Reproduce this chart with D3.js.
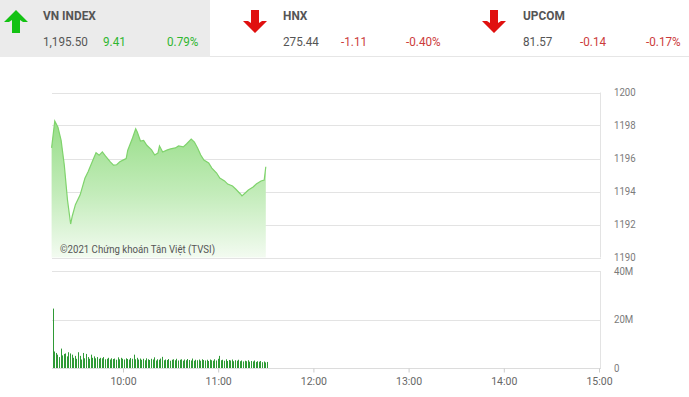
<!DOCTYPE html>
<html>
<head>
<meta charset="utf-8">
<script src="https://cdn.jsdelivr.net/npm/d3@7"></script>
<style>
  body { margin: 0; background: #fff; }
  svg { display: block; font-family: Roboto, "Noto Sans", sans-serif; }
</style>
</head>
<body>
<svg id="chart" width="689" height="397"></svg>
<script>
// header tiles
const indexNames = ["VN INDEX", "HNX", "UPCOM"];
const indexValues = ["1,195.50", "275.44", "81.57"];
const indexChanges = ["9.41", "-1.11", "-0.14"];
const indexPercents = ["0.79%", "-0.40%", "-0.17%"];

// intraday VN-Index (time, points)
const priceTimes = ["09:15","09:17","09:19","09:21","09:23","09:25","09:27","09:28","09:30","09:33",
  "09:36","09:38","09:41","09:43","09:45","09:47","09:49","09:52","09:54","09:56",
  "09:58","10:00","10:02","10:03","10:06","10:08","10:09","10:11","10:13","10:15",
  "10:18","10:20","10:22","10:23","10:25","10:28","10:30","10:33","10:35","10:38",
  "10:40","10:43","10:45","10:47","10:49","10:51","10:54","10:56","10:59","11:01",
  "11:04","11:06","11:09","11:11","11:14","11:15","11:17","11:19","11:22","11:24",
  "11:27","11:29","11:30"];
const priceValues = [1196.64,1198.27,1197.90,1197.10,1195.60,1193.50,1192.03,1192.50,1193.20,1193.80,
  1194.80,1195.20,1195.90,1196.35,1196.20,1196.40,1196.15,1195.80,1195.60,1195.62,
  1195.80,1195.90,1196.00,1196.50,1197.24,1197.80,1197.60,1197.06,1197.10,1196.80,
  1196.52,1196.21,1196.33,1196.76,1196.39,1196.52,1196.58,1196.64,1196.76,1196.70,
  1196.88,1197.18,1197.00,1196.64,1196.21,1195.91,1195.73,1195.42,1195.12,1194.82,
  1194.64,1194.45,1194.33,1194.15,1193.85,1193.73,1193.91,1194.09,1194.27,1194.45,
  1194.64,1194.70,1195.50];

// volume per minute from 09:15, in millions
const volumeStart = "09:15";
const volumeValues = [24.5,
  6.8,6.2,5.5,4.5,8.0,5.2,5.8,6.0,4.8,6.5,6.0,5.5,4.2,5.0,3.8,
  6.5,5.0,3.5,6.2,4.0,5.8,4.5,3.8,5.5,4.2,4.8,4.0,4.5,3.8,4.2,
  4.0,4.5,3.6,3.8,4.2,3.5,4.0,3.7,3.9,3.4,4.4,3.6,4.2,3.8,3.5,
  4.0,3.7,3.5,4.1,3.8,5.5,3.6,4.2,3.5,3.9,3.4,3.8,3.2,4.0,3.6,
  3.3,3.8,3.5,4.4,3.1,3.6,3.4,3.9,4.6,3.2,3.5,3.3,3.7,3.0,3.4,
  3.6,3.2,3.8,3.1,3.4,3.6,3.0,3.5,3.2,3.7,3.3,3.1,3.9,3.0,3.4,
  3.2,3.5,3.0,3.6,3.3,3.1,3.4,2.9,3.5,3.2,3.0,3.6,3.1,3.8,5.0,
  3.2,3.4,3.0,3.6,2.9,3.3,3.1,3.5,2.8,3.2,3.0,3.4,2.8,3.1,2.7,
  3.0,2.8,3.2,2.6,2.9,2.7,3.1,2.5,2.8,2.6,2.9,2.4,2.7,2.3,2.5];

const priceTicks = [1190, 1192, 1194, 1196, 1198, 1200];
const volumeTicks = [0, 20, 40];
const timeTicks = ["10:00", "11:00", "12:00", "13:00", "14:00", "15:00"];

const parse = d3.timeParse("%H:%M");

const svg = d3.select("#chart");

// ---- header ----
svg.append("rect").attr("x", 0).attr("y", 0).attr("width", 210).attr("height", 57).attr("fill", "#ebebeb");
svg.append("line").attr("x1", 210).attr("x2", 689).attr("y1", 56.5).attr("y2", 56.5).attr("stroke", "#e6e6e6");

const tileX = [43, 283, 523];
const changeX = [103, 341, 580];
const pctX = [167, 406, 646];
const arrowX = [16, 255, 494];

// narrow text, the source font is a condensed face
function narrow(x, y, sx) {
  return `translate(${x},${y}) scale(${sx},1)`;
}

indexNames.forEach(function(name, i) {
  const up = !indexChanges[i].startsWith("-");
  const col = up ? "#2fb62f" : "#cc3b3b";
  const ac = up ? "#13c213" : "#e0100f";
  const cx = arrowX[i];
  const arrow = up
    ? `M${cx},10 L${cx+12},22 L${cx+7},22 L${cx+4},20 L${cx+4},33 L${cx-4},33 L${cx-4},20 L${cx-7},22 L${cx-12},22 Z`
    : `M${cx},33 L${cx+12},21 L${cx+7},21 L${cx+4},23 L${cx+4},10 L${cx-4},10 L${cx-4},23 L${cx-7},21 L${cx-12},21 Z`;
  svg.append("path").attr("d", arrow).attr("fill", ac);

  svg.append("text").attr("transform", narrow(tileX[i], 19.5, 0.95))
    .attr("font-size", 12.5).attr("font-weight", "bold").attr("fill", "#555")
    .text(name);
  svg.append("text").attr("transform", narrow(tileX[i], 45.5, 0.9))
    .attr("font-size", 13).attr("fill", "#555").text(indexValues[i]);
  svg.append("text").attr("transform", narrow(changeX[i], 45.5, 0.9))
    .attr("font-size", 13).attr("fill", col).text(indexChanges[i]);
  svg.append("text").attr("transform", narrow(pctX[i], 45.5, 0.9))
    .attr("font-size", 13).attr("fill", col).text(indexPercents[i]);
});

// ---- scales ----
const x = d3.scaleTime()
  .domain([parse("09:15"), parse("15:00")])
  .range([51.6, 599]);

const y = d3.scaleLinear().domain([1190, 1200]).range([257.5, 92.5]);
const yv = d3.scaleLinear().domain([0, 40]).range([368, 271]);

const right = 601;

// ---- price panel ----
svg.append("g").selectAll("line").data(priceTicks).enter().append("line")
  .attr("x1", 52).attr("x2", right)
  .attr("y1", d => Math.round(y(d)) + 0.5).attr("y2", d => Math.round(y(d)) + 0.5)
  .attr("stroke", "#e3e3e3");
svg.append("line").attr("x1", right - 0.5).attr("x2", right - 0.5)
  .attr("y1", y(1200)).attr("y2", y(1190)).attr("stroke", "#e3e3e3");

svg.selectAll(".plab").data(priceTicks).enter().append("text")
  .attr("class", "plab")
  .attr("transform", d => narrow(614, y(d) + 3.5, 0.92))
  .attr("font-size", 10.5).attr("fill", "#7a7a7a")
  .text(d => d);

const defs = svg.append("defs");
const grad = defs.append("linearGradient").attr("id", "fillg")
  .attr("gradientUnits", "userSpaceOnUse")
  .attr("x1", 0).attr("x2", 0).attr("y1", 115).attr("y2", 258);
grad.append("stop").attr("offset", 0).attr("stop-color", "#93dc83");
grad.append("stop").attr("offset", 0.55).attr("stop-color", "#c3ecba");
grad.append("stop").attr("offset", 1).attr("stop-color", "#f3fbf1");

const priceData = priceTimes.map((t, i) => ({ t: parse(t), v: priceValues[i] }));

svg.append("path").datum(priceData)
  .attr("fill", "url(#fillg)")
  .attr("d", d3.area().x(d => x(d.t)).y0(y(1190)).y1(d => y(d.v)));

svg.append("path").datum(priceData)
  .attr("fill", "none").attr("stroke", "#7fd36c").attr("stroke-width", 1.2)
  .attr("d", d3.line().x(d => x(d.t)).y(d => y(d.v)));

svg.append("text").attr("x", 60).attr("y", 253)
  .attr("font-size", 10.5).attr("fill", "#555")
  .attr("textLength", 155).attr("lengthAdjust", "spacingAndGlyphs")
  .text("©2021 Chứng khoán Tân Việt (TVSI)");

// ---- volume panel ----
svg.selectAll(".vgrid").data(volumeTicks.slice(1)).enter().append("line")
  .attr("class", "vgrid")
  .attr("x1", 52).attr("x2", right)
  .attr("y1", d => Math.round(yv(d)) + 0.5).attr("y2", d => Math.round(yv(d)) + 0.5)
  .attr("stroke", "#e3e3e3");
svg.append("line").attr("x1", right - 0.5).attr("x2", right - 0.5)
  .attr("y1", yv(40)).attr("y2", yv(0)).attr("stroke", "#e3e3e3");

svg.selectAll(".vlab").data(volumeTicks).enter().append("text")
  .attr("class", "vlab")
  .attr("transform", d => narrow(614, yv(d) + 3.5, 0.92))
  .attr("font-size", 10.5).attr("fill", "#7a7a7a")
  .text(d => d === 0 ? "0" : d + "M");

const t0 = parse(volumeStart);
svg.selectAll(".vbar").data(volumeValues).enter().append("rect")
  .attr("class", "vbar")
  .attr("x", (d, i) => Math.round(x(d3.timeMinute.offset(t0, i))) + 1)
  .attr("y", d => yv(d))
  .attr("width", 1)
  .attr("height", d => yv(0) - yv(d))
  .attr("fill", "#2f9a36");

// x axis
const xAxis = svg.append("g")
  .attr("transform", `translate(0,${Math.round(yv(0)) + 0.5})`)
  .call(d3.axisBottom(x)
    .tickValues(timeTicks.map(parse))
    .tickFormat(d3.timeFormat("%H:%M"))
    .tickSize(4)
    .tickPadding(5));
xAxis.select(".domain").attr("stroke", "#dcdcdc").attr("d", "M52,0H" + right);
xAxis.selectAll(".tick line").attr("stroke", "#ccc");
xAxis.selectAll(".tick text").attr("fill", "#666").attr("font-size", 10.5)
  .attr("font-family", "Roboto, sans-serif");
</script>
</body>
</html>
